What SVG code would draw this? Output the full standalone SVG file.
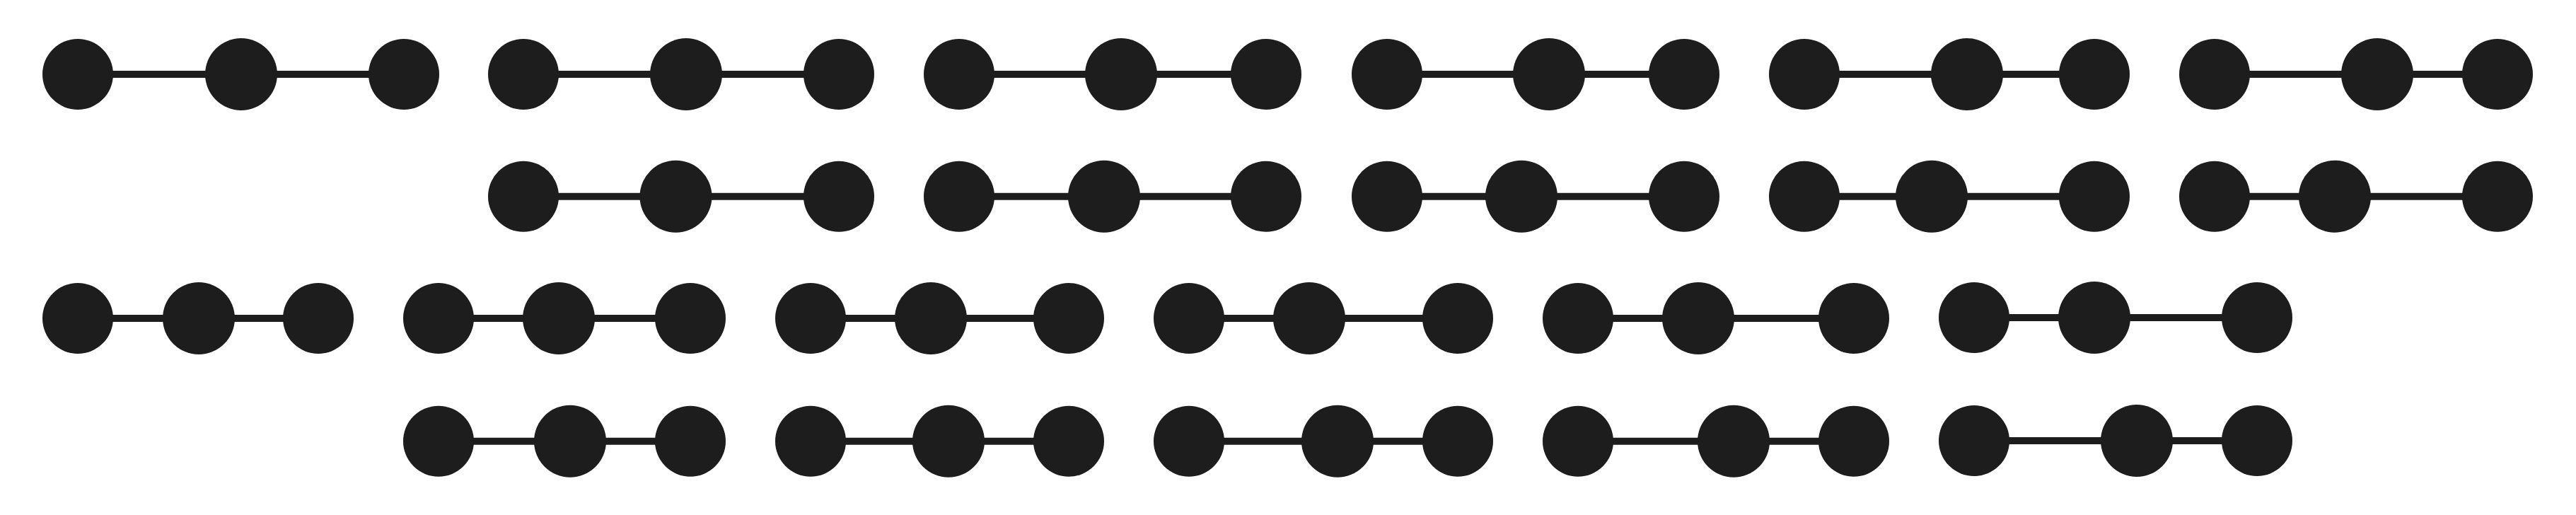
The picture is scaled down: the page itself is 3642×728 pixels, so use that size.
<svg xmlns="http://www.w3.org/2000/svg" width="3642" height="728" viewBox="0 0 3642 728">
<style>
.e{stroke:#1d1d1d;stroke-width:10;fill:none}
.n{fill:#1d1d1d}
</style>
<rect width="3642" height="728" fill="#ffffff"/>
<g id="connectors">
<path class="e" d="M110 105H571"/>
<path class="e" d="M740 105H1186"/>
<path class="e" d="M1356 105H1790"/>
<path class="e" d="M1961 105H2381"/>
<path class="e" d="M2551 105H2961"/>
<path class="e" d="M3131 105H3531"/>
<path class="e" d="M740 277.7H1186"/>
<path class="e" d="M1356 277.7H1790"/>
<path class="e" d="M1961 277.7H2381"/>
<path class="e" d="M2551 277.7H2961"/>
<path class="e" d="M3131 277.7H3531"/>
<path class="e" d="M110 450H450"/>
<path class="e" d="M620 450H976"/>
<path class="e" d="M1146 450H1511"/>
<path class="e" d="M1681 450H2061"/>
<path class="e" d="M2231 450H2621"/>
<path class="e" d="M2791 449H3191"/>
<path class="e" d="M620 623.7H976"/>
<path class="e" d="M1146 623.7H1511"/>
<path class="e" d="M1681 623.7H2061"/>
<path class="e" d="M2231 623.7H2621"/>
<path class="e" d="M2791 623H3191"/>
</g>
<g id="nodes">
<g id="r1g1a"><circle class="n" cx="110" cy="105" r="50"/></g>
<g id="r1g1b"><circle class="n" cx="341" cy="105" r="51"/></g>
<g id="r1g1c"><circle class="n" cx="571" cy="105" r="50"/></g>
<g id="r1g2a"><circle class="n" cx="740" cy="105" r="50"/></g>
<g id="r1g2b"><circle class="n" cx="970" cy="105" r="51"/></g>
<g id="r1g2c"><circle class="n" cx="1186" cy="105" r="50"/></g>
<g id="r1g3a"><circle class="n" cx="1356" cy="105" r="50"/></g>
<g id="r1g3b"><circle class="n" cx="1585" cy="105" r="51"/></g>
<g id="r1g3c"><circle class="n" cx="1790" cy="105" r="50"/></g>
<g id="r1g4a"><circle class="n" cx="1961" cy="105" r="50"/></g>
<g id="r1g4b"><circle class="n" cx="2190" cy="105" r="51"/></g>
<g id="r1g4c"><circle class="n" cx="2381" cy="105" r="50"/></g>
<g id="r1g5a"><circle class="n" cx="2551" cy="105" r="50"/></g>
<g id="r1g5b"><circle class="n" cx="2781" cy="105" r="51"/></g>
<g id="r1g5c"><circle class="n" cx="2961" cy="105" r="50"/></g>
<g id="r1g6a"><circle class="n" cx="3131" cy="105" r="50"/></g>
<g id="r1g6b"><circle class="n" cx="3361" cy="105" r="51"/></g>
<g id="r1g6c"><circle class="n" cx="3531" cy="105" r="50"/></g>

<g id="r2g2a"><circle class="n" cx="740" cy="277.7" r="50"/></g>
<g id="r2g2b"><circle class="n" cx="955.5" cy="277.7" r="51"/></g>
<g id="r2g2c"><circle class="n" cx="1186" cy="277.7" r="50"/></g>
<g id="r2g3a"><circle class="n" cx="1356" cy="277.7" r="50"/></g>
<g id="r2g3b"><circle class="n" cx="1561" cy="277.7" r="51"/></g>
<g id="r2g3c"><circle class="n" cx="1790" cy="277.7" r="50"/></g>
<g id="r2g4a"><circle class="n" cx="1961" cy="277.7" r="50"/></g>
<g id="r2g4b"><circle class="n" cx="2151" cy="277.7" r="51"/></g>
<g id="r2g4c"><circle class="n" cx="2381" cy="277.7" r="50"/></g>
<g id="r2g5a"><circle class="n" cx="2551" cy="277.7" r="50"/></g>
<g id="r2g5b"><circle class="n" cx="2731" cy="277.7" r="51"/></g>
<g id="r2g5c"><circle class="n" cx="2961" cy="277.7" r="50"/></g>
<g id="r2g6a"><circle class="n" cx="3131" cy="277.7" r="50"/></g>
<g id="r2g6b"><circle class="n" cx="3301" cy="277.7" r="51"/></g>
<g id="r2g6c"><circle class="n" cx="3531" cy="277.7" r="50"/></g>

<g id="r3g1a"><circle class="n" cx="110" cy="450" r="50"/></g>
<g id="r3g1b"><circle class="n" cx="281" cy="450" r="51"/></g>
<g id="r3g1c"><circle class="n" cx="450" cy="450" r="50"/></g>
<g id="r3g2a"><circle class="n" cx="620" cy="450" r="50"/></g>
<g id="r3g2b"><circle class="n" cx="790" cy="450" r="51"/></g>
<g id="r3g2c"><circle class="n" cx="976" cy="450" r="50"/></g>
<g id="r3g3a"><circle class="n" cx="1146" cy="450" r="50"/></g>
<g id="r3g3b"><circle class="n" cx="1316" cy="450" r="51"/></g>
<g id="r3g3c"><circle class="n" cx="1511" cy="450" r="50"/></g>
<g id="r3g4a"><circle class="n" cx="1681" cy="450" r="50"/></g>
<g id="r3g4b"><circle class="n" cx="1851" cy="450" r="51"/></g>
<g id="r3g4c"><circle class="n" cx="2061" cy="450" r="50"/></g>
<g id="r3g5a"><circle class="n" cx="2231" cy="450" r="50"/></g>
<g id="r3g5b"><circle class="n" cx="2401" cy="450" r="51"/></g>
<g id="r3g5c"><circle class="n" cx="2621" cy="450" r="50"/></g>
<g id="r3g6a"><circle class="n" cx="2791" cy="449" r="50"/></g>
<g id="r3g6b"><circle class="n" cx="2961" cy="449" r="51"/></g>
<g id="r3g6c"><circle class="n" cx="3191" cy="449" r="50"/></g>

<g id="r4g2a"><circle class="n" cx="620" cy="623.7" r="50"/></g>
<g id="r4g2b"><circle class="n" cx="806" cy="623.7" r="51"/></g>
<g id="r4g2c"><circle class="n" cx="976" cy="623.7" r="50"/></g>
<g id="r4g3a"><circle class="n" cx="1146" cy="623.7" r="50"/></g>
<g id="r4g3b"><circle class="n" cx="1341" cy="623.7" r="51"/></g>
<g id="r4g3c"><circle class="n" cx="1511" cy="623.7" r="50"/></g>
<g id="r4g4a"><circle class="n" cx="1681" cy="623.7" r="50"/></g>
<g id="r4g4b"><circle class="n" cx="1891" cy="623.7" r="51"/></g>
<g id="r4g4c"><circle class="n" cx="2061" cy="623.7" r="50"/></g>
<g id="r4g5a"><circle class="n" cx="2231" cy="623.7" r="50"/></g>
<g id="r4g5b"><circle class="n" cx="2451" cy="623.7" r="51"/></g>
<g id="r4g5c"><circle class="n" cx="2621" cy="623.7" r="50"/></g>
<g id="r4g6a"><circle class="n" cx="2791" cy="623" r="50"/></g>
<g id="r4g6b"><circle class="n" cx="3021" cy="623" r="51"/></g>
<g id="r4g6c"><circle class="n" cx="3191" cy="623" r="50"/></g>
</g>
</svg>
